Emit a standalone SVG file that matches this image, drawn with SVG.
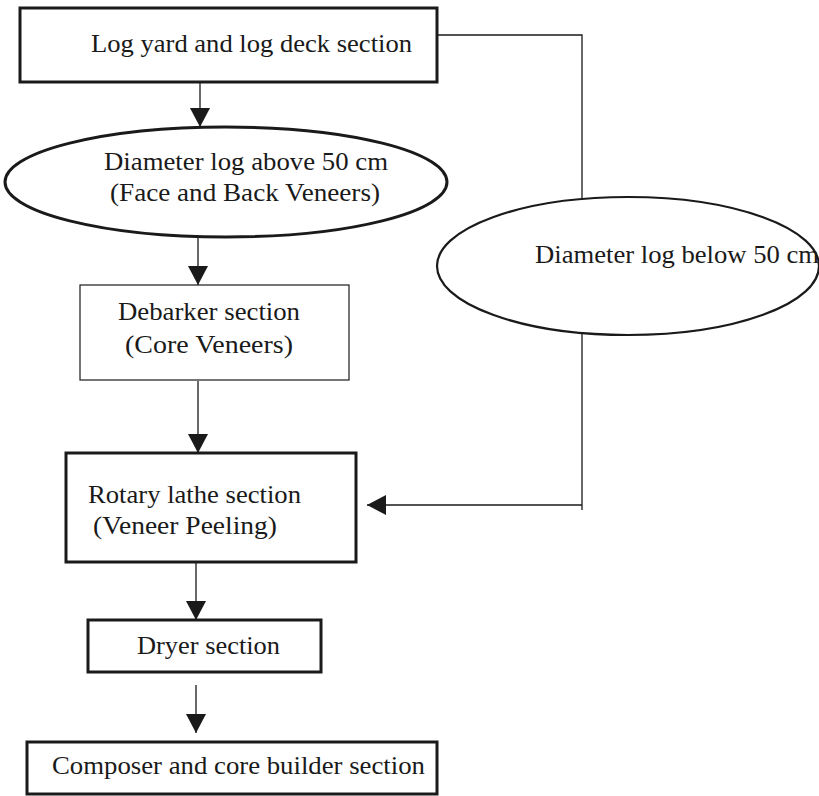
<svg xmlns="http://www.w3.org/2000/svg" width="819" height="796" viewBox="0 0 819 796">
<style>
  .t { font-family: "Liberation Serif", "Times New Roman", serif; font-size: 26px; fill: #1a1a1a; }
  .thick { fill: #ffffff; stroke: #1a1a1a; stroke-width: 3; }
  .thin { fill: #ffffff; stroke: #1a1a1a; stroke-width: 1.2; }
  .mid { fill: #ffffff; stroke: #1a1a1a; stroke-width: 2.2; }
  .c { fill: none; stroke: #1a1a1a; stroke-width: 1.3; }
</style>
<defs>
  <marker id="ah" markerUnits="userSpaceOnUse" markerWidth="20" markerHeight="20" viewBox="0 0 20 20" refX="19" refY="10" orient="auto">
    <polygon points="0,0 19,10 0,20" fill="#1a1a1a"/>
  </marker>
</defs>
<rect width="819" height="796" fill="#ffffff"/>
<g id="connectors">
  <line class="c" x1="200" y1="82" x2="200" y2="127" marker-end="url(#ah)"/>
  <line class="c" x1="198" y1="238" x2="198" y2="285" marker-end="url(#ah)"/>
  <line class="c" x1="198" y1="381" x2="198" y2="453" marker-end="url(#ah)"/>
  <line class="c" x1="196" y1="562" x2="196" y2="620" marker-end="url(#ah)"/>
  <line class="c" x1="196" y1="685" x2="196" y2="733" marker-end="url(#ah)"/>
  <polyline class="c" points="437,35 582,35 582,199"/>
  <polyline class="c" points="582,334 582,510"/>
  <line class="c" x1="582" y1="505" x2="367" y2="505" marker-end="url(#ah)"/>
</g>
<g id="node-logyard">
  <rect class="thick" x="20" y="8" width="417" height="74"/>
  <text class="t" x="91" y="52" textLength="321" lengthAdjust="spacingAndGlyphs">Log yard and log deck section</text>
</g>
<g id="node-above50">
  <ellipse class="thick" cx="226" cy="182" rx="221" ry="55"/>
  <text class="t" x="104" y="170" textLength="284" lengthAdjust="spacingAndGlyphs">Diameter log above 50 cm</text>
  <text class="t" x="110" y="201" textLength="270" lengthAdjust="spacingAndGlyphs">(Face and Back Veneers)</text>
</g>
<g id="node-below50">
  <ellipse class="mid" cx="628" cy="266" rx="191" ry="69"/>
  <text class="t" x="535" y="263" textLength="284" lengthAdjust="spacingAndGlyphs">Diameter log below 50 cm</text>
</g>
<g id="node-debarker">
  <rect class="thin" x="80" y="285" width="269" height="95"/>
  <text class="t" x="118" y="320" textLength="182" lengthAdjust="spacingAndGlyphs">Debarker section</text>
  <text class="t" x="125" y="353" textLength="168" lengthAdjust="spacingAndGlyphs">(Core Veneers)</text>
</g>
<g id="node-rotary">
  <rect class="thick" x="66" y="453" width="290" height="109"/>
  <text class="t" x="88" y="503" textLength="213" lengthAdjust="spacingAndGlyphs">Rotary lathe section</text>
  <text class="t" x="93" y="534" textLength="184" lengthAdjust="spacingAndGlyphs">(Veneer Peeling)</text>
</g>
<g id="node-dryer">
  <rect class="thick" x="88" y="620" width="233" height="52"/>
  <text class="t" x="137" y="654" textLength="143" lengthAdjust="spacingAndGlyphs">Dryer section</text>
</g>
<g id="node-composer">
  <rect class="thick" x="27" y="742" width="410" height="52"/>
  <text class="t" x="52" y="774" textLength="373" lengthAdjust="spacingAndGlyphs">Composer and core builder section</text>
</g>
</svg>
